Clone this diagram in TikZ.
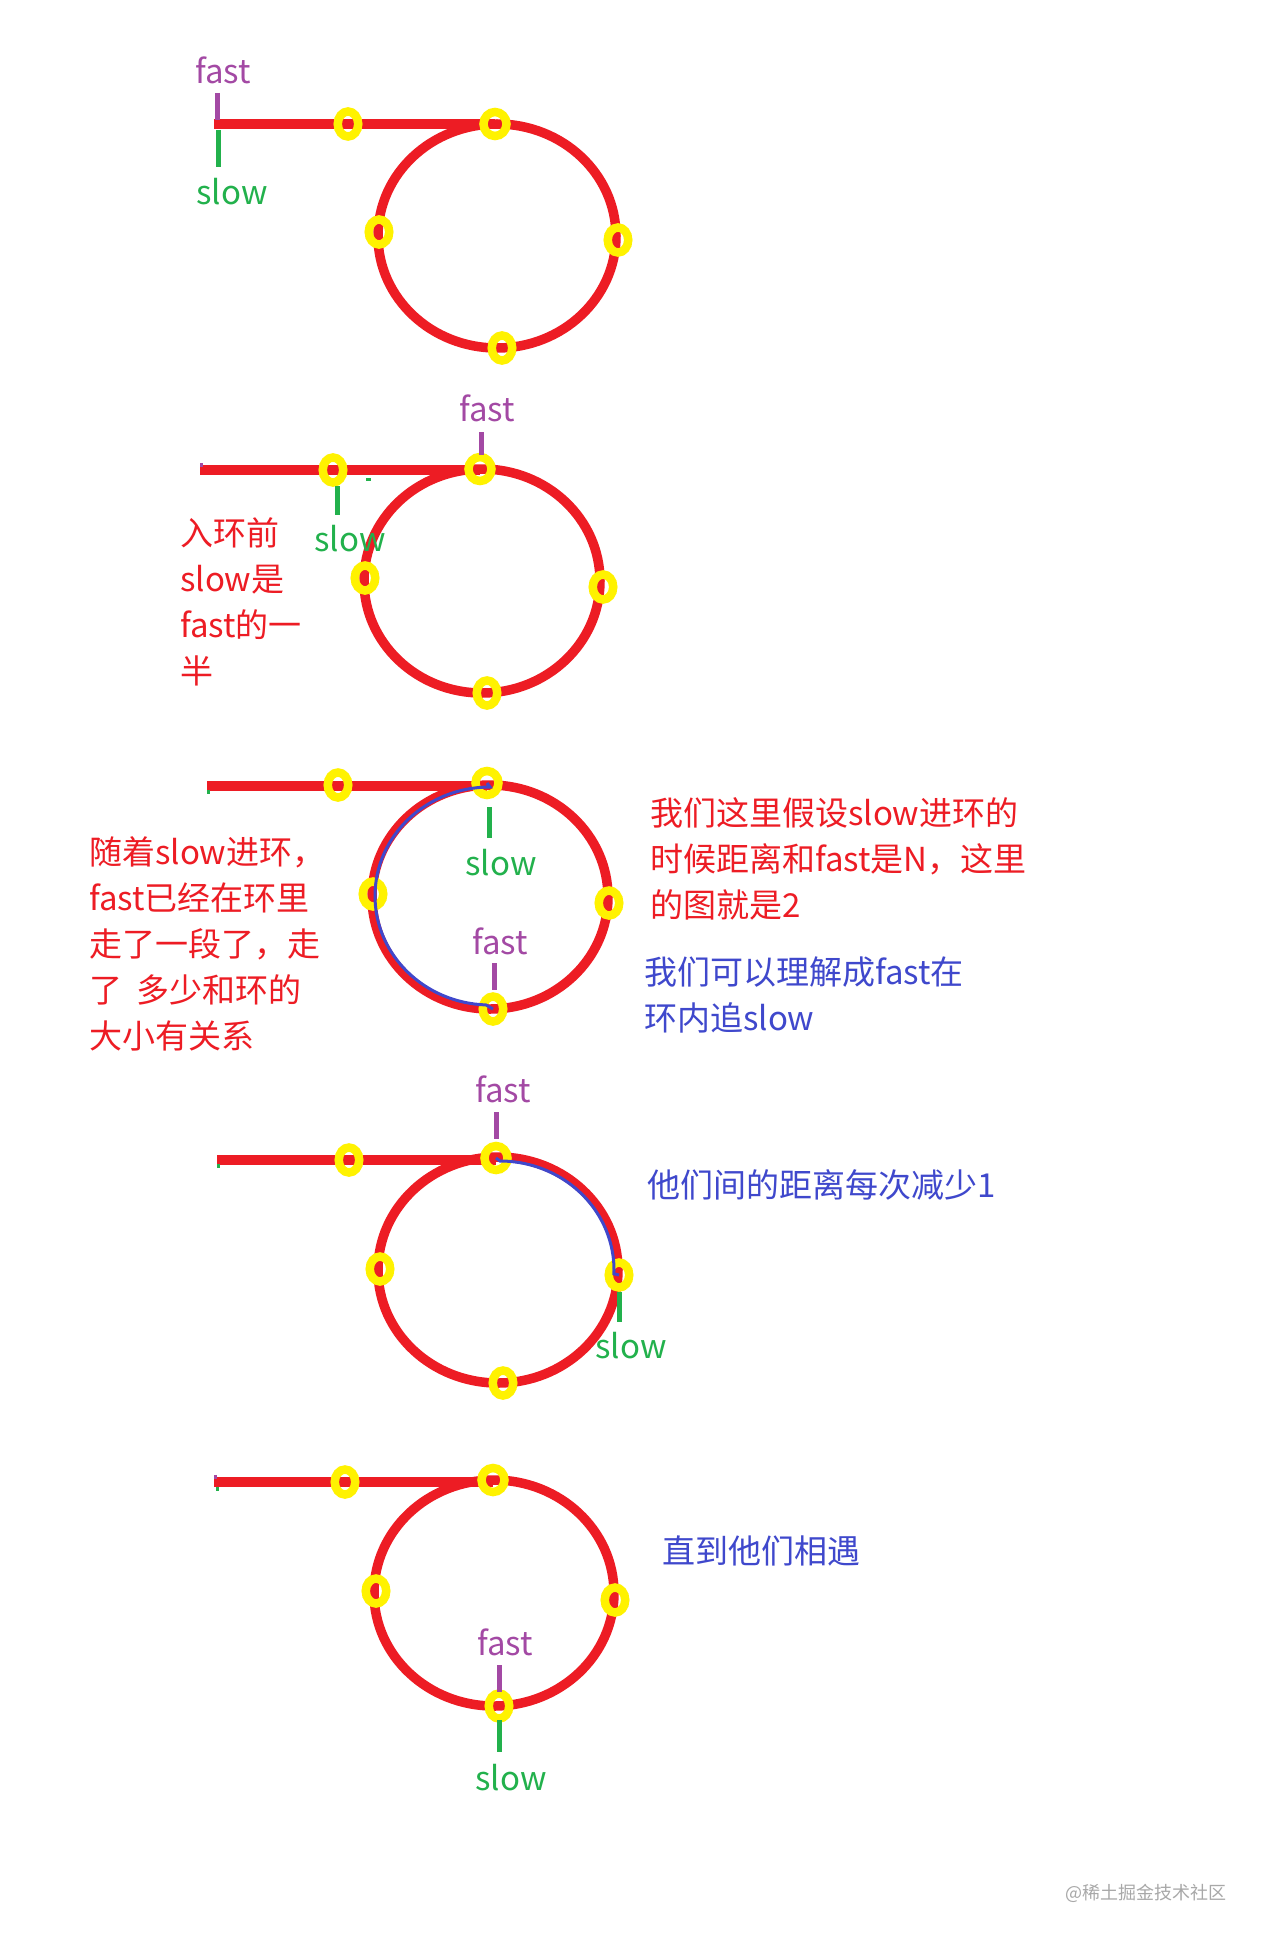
\documentclass[tikz,border=0pt]{standalone}
\usepackage{fontspec}
\setmainfont{Noto Sans CJK SC}
\usetikzlibrary{shapes.geometric}
\definecolor{pred}{HTML}{ED1C24}
\definecolor{pyel}{HTML}{FFF200}
\definecolor{ppur}{HTML}{A349A4}
\definecolor{pgrn}{HTML}{22B14C}
\definecolor{pblu}{HTML}{3F48CC}
\definecolor{wmgray}{HTML}{A8A8A8}
\newcommand{\bigtxt}{\fontsize{33pt}{46pt}\selectfont}
\begin{document}
\begin{tikzpicture}[x=1pt,y=-1pt,
  tailline/.style={draw=pred, line width=10.5pt},
  ringline/.style={draw=pred, line width=9.5pt},
  yel/.style={ellipse, draw=pyel, line width=8.5pt, minimum width=20.5pt, minimum height=25pt, inner sep=0pt},
  yeltop/.style={yel, minimum width=23pt, minimum height=24pt},
  ftick/.style={draw=ppur, line width=5pt},
  stick/.style={draw=pgrn, line width=5pt},
  nub/.style={line width=3pt},
  chase/.style={draw=pblu, line width=3pt},
  flabel/.style={text=ppur, font=\bigtxt, inner sep=0pt},
  slabel/.style={text=pgrn, font=\bigtxt, inner sep=0pt},
  rnote/.style={text=pred, font=\bigtxt, align=left, anchor=west, inner sep=0pt},
  bnote/.style={text=pblu, font=\bigtxt, align=left, anchor=west, inner sep=0pt}]
\useasboundingbox[fill=white] (0,0) rectangle (1263,1942);

% ---------------- panel 1 ----------------
\coordinate (a1) at (214,124);
\coordinate (t1) at (495,124);
\coordinate (c1) at (497,236);
\draw[tailline] (a1) -- (t1);
\draw[ringline] (c1) ellipse [x radius=119, y radius=112];
\node[yel] (p1a) at (348,124) {};
\node[yeltop] (p1b) at (495,124) {};
\node[yel] (p1c) at (618,240) {};
\node[yel] (p1d) at (502,348) {};
\node[yel] (p1e) at (379,232) {};
\coordinate (f1t) at (217,93);
\coordinate (f1b) at (217,120);
\coordinate (s1t) at (218,130);
\coordinate (s1b) at (218,167);
\draw[ftick] (f1t) -- (f1b);
\draw[stick] (s1t) -- (s1b);
\node[flabel] (f1) at (223,70) {fast};
\node[slabel] (s1) at (232,192) {slow};

% ---------------- panel 2 ----------------
\coordinate (a2) at (200,470);
\coordinate (t2) at (480,470);
\coordinate (c2) at (482,581);
\draw[tailline] (a2) -- (t2);
\draw[ringline] (c2) ellipse [x radius=118, y radius=112];
\node[yel] (p2a) at (333,470) {};
\node[yeltop] (p2b) at (480,469) {};
\node[yel] (p2c) at (603,587) {};
\node[yel] (p2d) at (487,693) {};
\node[yel] (p2e) at (365,578) {};
\coordinate (f2t) at (481,432);
\coordinate (f2b) at (481,455);
\coordinate (s2t) at (337,486);
\coordinate (s2b) at (337,515);
\draw[ftick] (f2t) -- (f2b);
\draw[stick] (s2t) -- (s2b);
\coordinate (n2a) at (201,463);
\coordinate (n2b) at (201,467);
\draw[nub, draw=ppur] (n2a) -- (n2b);
\coordinate (n2c) at (366,479);
\coordinate (n2d) at (371,479);
\draw[nub, draw=pgrn] (n2c) -- (n2d);
\node[flabel] (f2) at (487,408) {fast};
\node[slabel] (s2) at (350,539) {slow};
\node[rnote] (r2) at (180,602) {入环前\\slow是\\fast的一\\半};

% ---------------- panel 3 ----------------
\coordinate (a3) at (207,786);
\coordinate (t3) at (487,786);
\coordinate (c3) at (490,897);
\draw[tailline] (a3) -- (t3);
\draw[ringline] (c3) ellipse [x radius=118, y radius=112];
\node[yel] (p3a) at (338,785) {};
\node[yeltop] (p3b) at (487,783) {};
\node[yel] (p3c) at (609,903) {};
\node[yel] (p3d) at (493,1009) {};
\node[yel] (p3e) at (373,894) {};
\draw[chase] (p3b.center) -- ++(3,4) arc[start angle=270, end angle=92, x radius=115, y radius=109] -- (p3d.center);
\coordinate (s3t) at (489,807);
\coordinate (s3b) at (489,838);
\coordinate (f3t) at (494,963);
\coordinate (f3b) at (494,990);
\draw[stick] (s3t) -- (s3b);
\draw[ftick] (f3t) -- (f3b);
\coordinate (n3a) at (208,790);
\coordinate (n3b) at (208,794);
\draw[nub, draw=pgrn] (n3a) -- (n3b);
\node[slabel] (s3) at (501,863) {slow};
\node[flabel] (f3) at (500,941) {fast};
\node[rnote] (l3) at (89,944) {随着slow进环，\\fast已经在环里\\走了一段了，走\\了\ \ 多少和环的\\大小有关系};
\node[rnote] (r3) at (650,859) {我们这里假设slow进环的\\时候距离和fast是N，这里\\的图就是2};
\node[bnote] (b3) at (644,995) {我们可以理解成fast在\\环内追slow};

% ---------------- panel 4 ----------------
\coordinate (a4) at (217,1160);
\coordinate (t4) at (496,1160);
\coordinate (c4) at (498,1270);
\draw[tailline] (a4) -- (t4);
\draw[ringline] (c4) ellipse [x radius=120, y radius=113];
\node[yel] (p4a) at (349,1160) {};
\node[yeltop] (p4b) at (496,1158) {};
\node[yel] (p4c) at (619,1275) {};
\node[yel] (p4d) at (503,1383) {};
\node[yel] (p4e) at (380,1269) {};
\draw[chase] (p4b.center) -- ++(4,3) arc[start angle=270, end angle=362, x radius=114, y radius=109] -- (p4c.center);
\coordinate (f4t) at (496,1112);
\coordinate (f4b) at (496,1139);
\coordinate (s4t) at (619,1292);
\coordinate (s4b) at (619,1322);
\draw[ftick] (f4t) -- (f4b);
\draw[stick] (s4t) -- (s4b);
\coordinate (n4a) at (218,1164);
\coordinate (n4b) at (218,1168);
\draw[nub, draw=pgrn] (n4a) -- (n4b);
\node[flabel] (f4) at (503,1089) {fast};
\node[slabel] (s4) at (631,1346) {slow};
\node[bnote] (b4) at (647,1185) {他们间的距离每次减少1};

% ---------------- panel 5 ----------------
\coordinate (a5) at (214,1482);
\coordinate (t5) at (493,1482);
\coordinate (c5) at (494,1593);
\draw[tailline] (a5) -- (t5);
\draw[ringline] (c5) ellipse [x radius=120, y radius=113];
\node[yel] (p5a) at (345,1482) {};
\node[yeltop] (p5b) at (493,1480) {};
\node[yel] (p5c) at (615,1600) {};
\node[yel] (p5d) at (499,1706) {};
\node[yel] (p5e) at (376,1591) {};
\coordinate (f5t) at (499,1665);
\coordinate (f5b) at (499,1692);
\coordinate (s5t) at (499,1720);
\coordinate (s5b) at (499,1752);
\draw[ftick] (f5t) -- (f5b);
\draw[stick] (s5t) -- (s5b);
\coordinate (n5a) at (215,1475);
\coordinate (n5b) at (215,1479);
\draw[nub, draw=ppur] (n5a) -- (n5b);
\coordinate (n5c) at (217,1487);
\coordinate (n5d) at (217,1491);
\draw[nub, draw=pgrn] (n5c) -- (n5d);
\node[flabel] (f5) at (505,1642) {fast};
\node[slabel] (s5) at (511,1778) {slow};
\node[bnote] (b5) at (662,1551) {直到他们相遇};

% watermark
\node[anchor=west, text=wmgray, font=\fontsize{18pt}{20pt}\selectfont, inner sep=0pt] (wmk) at (1065,1893) {@稀土掘金技术社区};
\end{tikzpicture}
\end{document}
